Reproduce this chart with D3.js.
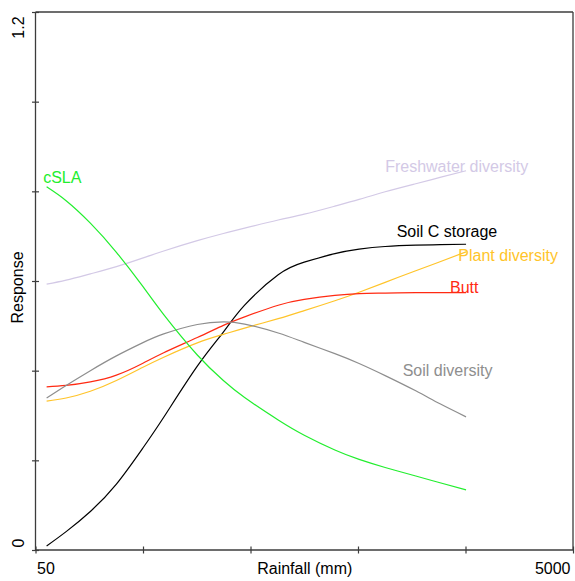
<!DOCTYPE html>
<html>
<head>
<meta charset="utf-8">
<script src="https://cdn.jsdelivr.net/npm/d3@7"></script>
<style>
  html, body { margin: 0; padding: 0; background: #fff; }
  svg { display: block; font-family: "Liberation Sans", Arial, sans-serif; }
</style>
</head>
<body>
<svg id="chart" width="575" height="581"></svg>
<script>
// ---- Data ----
const rainfall = [55, 65, 80, 100, 125, 150, 200, 250, 300, 400, 500, 650, 800, 1000, 1300, 1600, 2000];

const freshwater = [0.593, 0.602, 0.616, 0.632, 0.651, 0.667, 0.690, 0.706, 0.718, 0.736, 0.749, 0.767, 0.782, 0.799, 0.817, 0.831, 0.846];
const soilC      = [0.009, 0.041, 0.086, 0.147, 0.226, 0.296, 0.410, 0.486, 0.546, 0.614, 0.642, 0.661, 0.671, 0.677, 0.680, 0.681, 0.682];
const plantDiv   = [0.332, 0.339, 0.354, 0.378, 0.407, 0.430, 0.462, 0.481, 0.495, 0.516, 0.534, 0.556, 0.575, 0.597, 0.623, 0.643, 0.665];
const butt       = [0.364, 0.367, 0.375, 0.390, 0.416, 0.440, 0.474, 0.501, 0.520, 0.546, 0.559, 0.568, 0.572, 0.573, 0.574, 0.574, 0.574];
const soilDiv    = [0.339, 0.367, 0.400, 0.433, 0.462, 0.482, 0.503, 0.509, 0.504, 0.484, 0.463, 0.438, 0.416, 0.389, 0.355, 0.326, 0.297];
const cSLA       = [0.810, 0.779, 0.729, 0.664, 0.589, 0.525, 0.435, 0.378, 0.340, 0.290, 0.256, 0.223, 0.202, 0.184, 0.165, 0.150, 0.134];

const seriesNames  = ["Freshwater diversity", "Soil C storage", "Plant diversity", "Butt", "Soil diversity", "cSLA"];
const seriesValues = [freshwater, soilC, plantDiv, butt, soilDiv, cSLA];
const seriesColors = ["#d3c9e6", "#000000", "#ffc42a", "#ff2a12", "#8e8e8e", "#22ee2e"];
// label anchor (rainfall, response) for each series label
const labelRain  = [1000, 1104, 1872, 1743, 1162, 53.4];
const labelResp  = [0.844, 0.699, 0.645, 0.574, 0.387, 0.819];

const xDomain = [50, 5000];
const xTicks  = [50, 125.6, 315.5, 792.4, 1990.5, 5000];
const xTickLabels = ["50", "", "", "", "", "5000"];
const yDomain = [0, 1.2];
const yTicks  = [0, 0.2, 0.4, 0.6, 0.8, 1.0, 1.2];
const yTickLabels = ["0", "", "", "", "", "", "1.2"];

// ---- Layout ----
const L = 35.5, R = 573, T = 12, B = 550;
const svg = d3.select("#chart");
const x = d3.scaleLog().domain(xDomain).range([L, R]);
const y = d3.scaleLinear().domain(yDomain).range([B, T]);

const frameColor = "#3c3c3c";

// frame top & right
svg.append("line").attr("x1", L).attr("x2", R).attr("y1", T).attr("y2", T)
  .attr("stroke", frameColor).attr("stroke-width", 1.3);
svg.append("line").attr("x1", R).attr("x2", R).attr("y1", T).attr("y2", B)
  .attr("stroke", frameColor).attr("stroke-width", 1.3);

// axes
const yAxis = svg.append("g").attr("transform", `translate(${L},0)`)
  .call(d3.axisLeft(y).tickValues(yTicks).tickSize(3.5).tickFormat("").tickSizeOuter(0));
const xAxis = svg.append("g").attr("transform", `translate(0,${B})`)
  .call(d3.axisBottom(x).tickValues(xTicks).tickSize(3.5).tickFormat("").tickSizeOuter(0));
[yAxis, xAxis].forEach(g => {
  g.select(".domain").attr("stroke", frameColor).attr("stroke-width", 1.3);
  g.selectAll(".tick line").attr("stroke", frameColor).attr("stroke-width", 1.2);
});
yAxis.selectAll(".tick line").attr("x1", 3.5).attr("x2", -3.5);
xAxis.selectAll(".tick line").attr("y1", -3.5).attr("y2", 3.5);
yAxis.select(".domain").attr("d", `M0,${T}V${B}`);
xAxis.select(".domain").attr("d", `M${L},0H${R}`);

// tick labels
yTicks.forEach((t, i) => {
  if (!yTickLabels[i]) return;
  const cy = i === yTicks.length - 1 ? y(t) + 15.5 : y(t) - 7;
  svg.append("text")
    .attr("transform", `translate(24,${cy}) rotate(-90)`)
    .attr("text-anchor", "middle").attr("font-size", 16).attr("fill", "#000")
    .text(yTickLabels[i]);
});
xTicks.forEach((t, i) => {
  if (!xTickLabels[i]) return;
  const first = i === 0;
  svg.append("text")
    .attr("x", first ? x(t) + 1.5 : x(t) - 2.5).attr("y", 574)
    .attr("text-anchor", first ? "start" : "end")
    .attr("font-size", 16).attr("fill", "#000")
    .text(xTickLabels[i]);
});

// axis titles
svg.append("text").attr("x", (x(50) + x(5000)) / 2 + 0.5).attr("y", 574)
  .attr("text-anchor", "middle").attr("font-size", 16).attr("fill", "#000")
  .text("Rainfall (mm)");
svg.append("text").attr("transform", `translate(23,${(T + B) / 2 + 6.5}) rotate(-90)`)
  .attr("text-anchor", "middle").attr("font-size", 16).attr("fill", "#000")
  .text("Response");

// curves
const line = d3.line()
  .x((d, i) => x(rainfall[i]))
  .y(d => y(d))
  .curve(d3.curveNatural);

seriesValues.forEach((vals, k) => {
  svg.append("path")
    .attr("d", line(vals))
    .attr("fill", "none")
    .attr("stroke", seriesColors[k])
    .attr("stroke-width", 1.2);
});

// series labels
seriesNames.forEach((name, k) => {
  svg.append("text")
    .attr("x", x(labelRain[k])).attr("y", y(labelResp[k]))
    .attr("font-size", 16).attr("fill", seriesColors[k])
    .text(name);
});
</script>
</body>
</html>
